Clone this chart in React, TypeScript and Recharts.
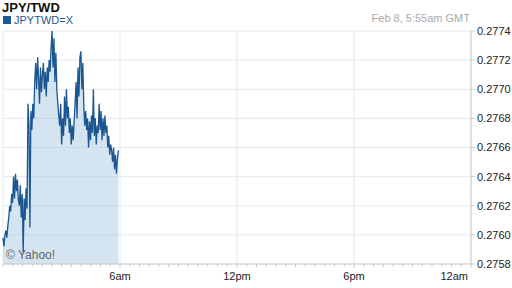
import { AreaChart, Area, XAxis, YAxis, CartesianGrid } from 'recharts'

const title = 'JPY/TWD'
const symbol = 'JPYTWD=X'
const stamp = 'Feb 8, 5:55am GMT'
const credit = '© Yahoo!'

// JPY/TWD quotes from 00:00 to 05:55 GMT
const rates = [
  0.27598, 0.27592, 0.276, 0.27603, 0.27598, 0.27606, 0.27612, 0.2762, 0.27616, 0.27628, 0.27622,
  0.2764, 0.27625, 0.27642, 0.2763, 0.27638, 0.27624, 0.2762, 0.27634, 0.27612, 0.27628, 0.27588,
  0.27625, 0.2761, 0.27632, 0.27618, 0.2769, 0.27675, 0.27605, 0.27685, 0.27672, 0.2769, 0.2768,
  0.27705, 0.27718, 0.277, 0.27722, 0.27708, 0.2769, 0.27715, 0.27698, 0.2771, 0.27718, 0.277,
  0.27712, 0.27695, 0.27715, 0.27705, 0.2772, 0.27712, 0.27728, 0.2774, 0.27715, 0.27735, 0.27705,
  0.27725, 0.277, 0.2769, 0.27682, 0.27675, 0.2769, 0.27662, 0.2768, 0.27668, 0.27695, 0.27675,
  0.277, 0.2768, 0.27688, 0.2767, 0.2768, 0.27662, 0.27675, 0.27665, 0.27678, 0.2769, 0.27705,
  0.2768, 0.27715, 0.27695, 0.27722, 0.27726, 0.277, 0.27718, 0.2769, 0.27675, 0.27685, 0.27672,
  0.2768, 0.2766, 0.27678, 0.27665, 0.27682, 0.2767, 0.277, 0.27668, 0.2768, 0.27662, 0.27675,
  0.2767, 0.2769, 0.27672, 0.27685, 0.27665, 0.2768, 0.27668, 0.27682, 0.2767, 0.27675, 0.2766,
  0.27668, 0.27655, 0.27662, 0.27658, 0.2765, 0.2766, 0.27645, 0.27655, 0.27642, 0.27652, 0.27658,
]
const lastMinute = 355

const yTicks = [0.2758, 0.276, 0.2762, 0.2764, 0.2766, 0.2768, 0.277, 0.2772, 0.2774]
const majorTicks = [360, 720, 1080, 1440]
const majorLabels = ['6am', '12pm', '6pm', '12am']
const gridX = [0, ...majorTicks]
const minorTicks = Array.from({ length: 49 }, (_, i) => i * 30)

const data = rates.map((rate, i) => ({ minute: (i * lastMinute) / (rates.length - 1), rate }))

const font = '"Liberation Sans", Arial, sans-serif'

function TimeTick(props: any) {
  const { x, y, payload } = props
  const idx = majorTicks.indexOf(payload.value)
  const last = idx === majorTicks.length - 1
  return (
    <g>
      <line x1={x} x2={x} y1={y} y2={y + (idx >= 0 ? 4 : 3)} stroke="#cccccc" />
      {idx >= 0 && (
        <text
          x={last ? x - 3 : x}
          y={y + 16}
          textAnchor={last ? 'end' : 'middle'}
          fill="#222"
          fontSize={11}
          fontFamily={font}
        >
          {majorLabels[idx]}
        </text>
      )}
    </g>
  )
}

export default function App() {
  return (
    <div style={{ position: 'absolute', left: 0, top: 0, width: 512, height: 288, background: '#fff', fontFamily: font }}>
      <div style={{ position: 'absolute', left: 2, top: 0, fontSize: 13, fontWeight: 'bold', color: '#111' }}>{title}</div>
      <div style={{ position: 'absolute', left: 3, top: 14, fontSize: 11, color: '#1d5890', display: 'flex', alignItems: 'center' }}>
        <span style={{ display: 'inline-block', width: 8, height: 8, background: '#1d5890', marginRight: 3 }} />
        {symbol}
      </div>
      <div style={{ position: 'absolute', right: 42, top: 12, fontSize: 11, color: '#aaaaaa' }}>{stamp}</div>
      <AreaChart width={512} height={288} data={data} margin={{ top: 31, right: 0, bottom: 0, left: 3 }}>
        <CartesianGrid stroke="#e4e9f0" verticalValues={gridX} horizontalValues={yTicks} />
        <XAxis
          dataKey="minute"
          type="number"
          domain={[0, 1440]}
          ticks={minorTicks}
          interval={0}
          tick={<TimeTick />}
          tickLine={false}
          tickSize={0}
          tickMargin={0}
          height={24}
          axisLine={{ stroke: '#cccccc' }}
        />
        <YAxis
          orientation="right"
          domain={[0.2758, 0.2774]}
          ticks={yTicks}
          interval={0}
          width={41}
          tickFormatter={(v) => Number(v).toFixed(4)}
          tick={{ fill: '#222', fontSize: 11, fontFamily: font }}
          tickSize={4}
          tickMargin={2}
          tickLine={{ stroke: '#cccccc' }}
          axisLine={{ stroke: '#cccccc' }}
          allowDataOverflow
        />
        <Area
          type="linear"
          dataKey="rate"
          stroke="#1b5690"
          strokeWidth={1.3}
          fill="#a9c9e3"
          fillOpacity={0.5}
          isAnimationActive={false}
          dot={false}
          activeDot={false}
        />
      </AreaChart>
      <div style={{ position: 'absolute', left: 6, top: 248, fontSize: 12, color: '#666' }}>{credit}</div>
    </div>
  )
}
